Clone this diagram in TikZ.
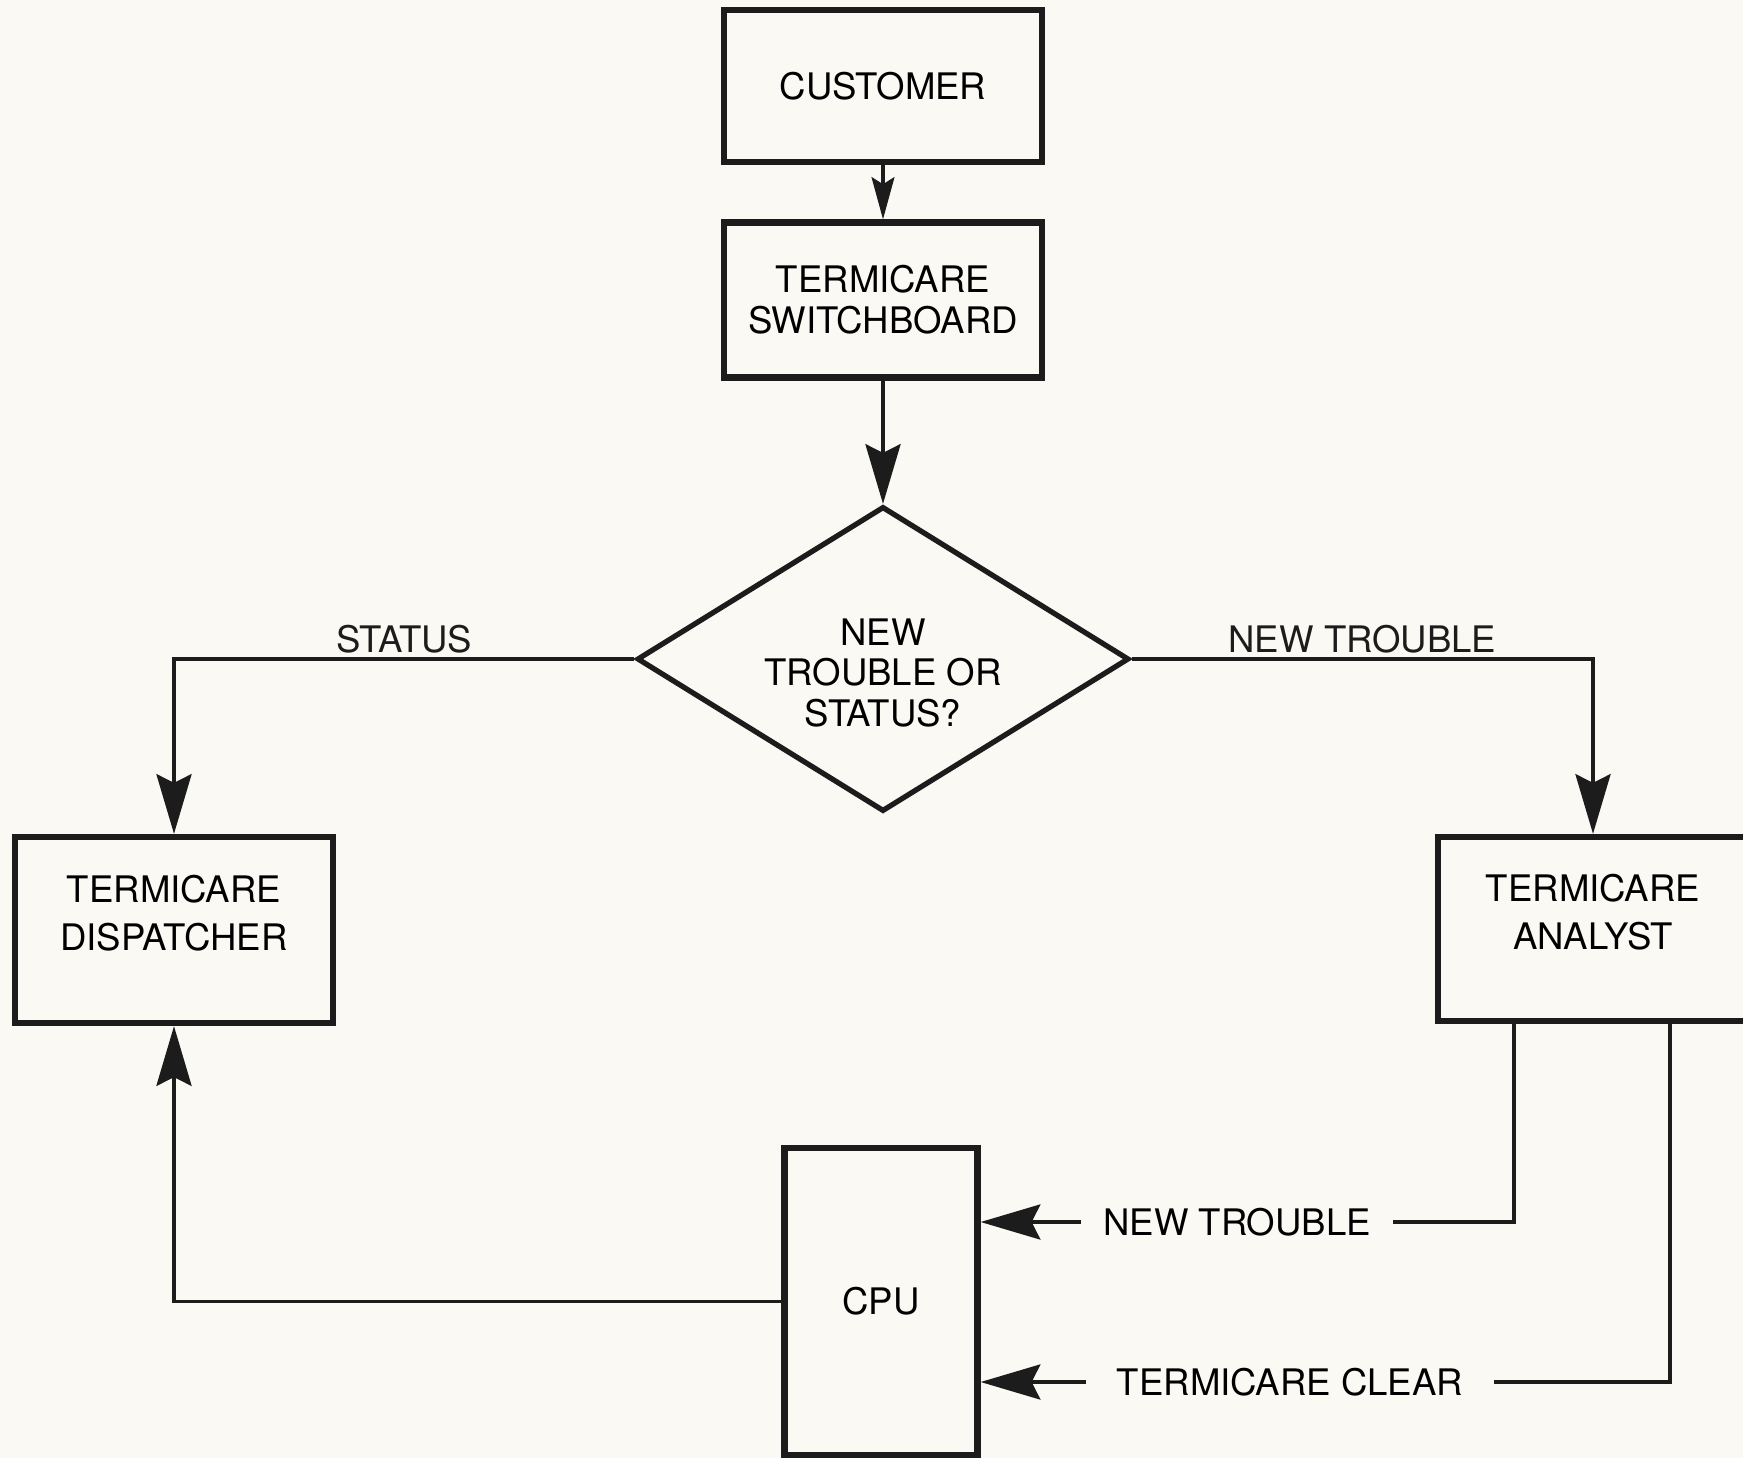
\documentclass[tikz,border=0pt]{standalone}
\usepackage{fontspec}
\setmainfont{TeX Gyre Heros}
\usepackage{xcolor}
\usepackage{tikz}
\usetikzlibrary{shapes.geometric,arrows.meta}
\definecolor{paper}{RGB}{251,249,244}
\definecolor{ink}{RGB}{28,28,28}
\newcommand{\flowfont}{\fontsize{10.4}{11.6}\selectfont}
\tikzset{
  box/.style={rectangle, draw=ink, line width=1.8pt, fill=paper,
              minimum width=3.18cm, align=center, font=\flowfont},
  decision/.style={diamond, aspect=1.61, draw=ink, line width=1.5pt, fill=paper,
                   inner sep=0pt, minimum width=4.92cm, minimum height=3.05cm,
                   align=center, font=\flowfont},
  lbl/.style={font=\flowfont, inner xsep=6pt, inner ysep=0pt},
  wire/.style={line width=0.9pt, ink},
  flow/.style={-{Stealth[length=17pt, width=10pt, inset=2.5pt]}, line width=0.9pt, ink},
  shortflow/.style={-{Stealth[length=12pt, width=6.5pt, inset=2pt]}, line width=0.9pt, ink},
}

\begin{document}
\begin{tikzpicture}

%% Column x-positions
\def\xD{1.74}   % dispatcher
\def\xM{8.83}   % switchboard / decision / cpu
\def\xA{15.93}  % analyst

%% Page
\useasboundingbox (0,0) rectangle (17.43,-14.58);
\fill[paper] (0,0) rectangle (17.43,-14.58);

%% Boxes
\node[box, minimum height=1.52cm] (cust) at (\xM,-0.86) {CUSTOMER};
\node[box, minimum height=1.55cm] (swb) at (\xM,-3.00) {TERMICARE\\SWITCHBOARD};
\node[decision] (dec) at (\xM,-6.59) {\rule{0pt}{15.5pt}NEW\\TROUBLE OR\\STATUS?};
\node[box, minimum height=1.86cm, text depth=0.34cm,
      font=\fontsize{10.4}{13.6}\selectfont] (disp) at (\xD,-9.30)
     {TERMICARE\\DISPATCHER};
\node[box, minimum width=3.10cm, minimum height=1.84cm, text depth=0.34cm,
      font=\fontsize{10.4}{13.6}\selectfont] (ana) at (\xA,-9.29)
     {TERMICARE\\ANALYST};
\node[box, minimum width=1.93cm, minimum height=3.07cm] (cpu) at (8.81,-13.015) {CPU};

%% Labels on the analyst -> cpu lines
\node[lbl] (ntlbl) at (12.37,-12.22) {NEW TROUBLE};
\node[lbl, inner xsep=8.5pt] (tclbl) at (12.90,-13.82) {TERMICARE CLEAR};

%% ── top: customer -> switchboard -> decision ──────────────────────────
\draw[shortflow] (cust) -- (swb);
\draw[flow] (swb) -- (dec);

%% ── decision branches ─────────────────────────────────────────────────
\draw[flow] (dec.west) -| node[lbl, pos=0.25, above, inner ysep=1.3pt] (stlbl) {STATUS} (disp.north);
\draw[flow] (dec.east) -| node[lbl, pos=0.25, above, inner ysep=1.3pt] (nwlbl) {NEW TROUBLE} (ana.north);

%% ── analyst -> cpu ────────────────────────────────────────────────────
\draw[wire] ([xshift=-0.79cm]ana.south) |- (ntlbl.east);
\draw[flow] (ntlbl.west) -- (cpu.east |- ntlbl.west);
\draw[wire] ([xshift=0.77cm]ana.south) |- (tclbl.east);
\draw[flow] (tclbl.west) -- (cpu.east |- tclbl.west);

%% ── cpu -> dispatcher ─────────────────────────────────────────────────
\draw[flow] (cpu.west) -| (disp.south);

\end{tikzpicture}
\end{document}
